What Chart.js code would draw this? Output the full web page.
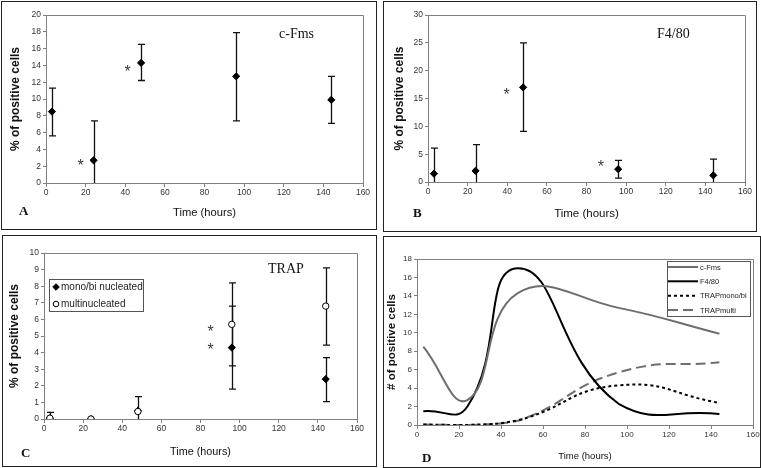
<!DOCTYPE html>
<html><head><meta charset="utf-8">
<script src="https://cdn.jsdelivr.net/npm/chart.js@4.4.1/dist/chart.umd.min.js"></script>
<style>
body{margin:0;background:#fff;}
#wrap{position:relative;width:761px;height:468px;overflow:hidden;background:#fff;}
.frame{position:absolute;box-sizing:border-box;border:1px solid #222;pointer-events:none;}
canvas{position:absolute;}
.lbl{position:absolute;font-family:"Liberation Serif";white-space:nowrap;line-height:1;color:#111;}
.pl{font-weight:bold;font-size:13px;}
.nm{font-size:14px;}
</style></head><body><div id="wrap"></div>
<script>
// ---------- data ----------
const hours = [3, 24, 48, 96, 144];

const cFmsMean = [8.5, 2.7, 14.3, 12.7, 9.9];
const cFmsLow  = [5.6, -3.0, 12.2, 7.4, 7.1];
const cFmsHigh = [11.3, 7.4, 16.5, 17.9, 12.7];

const f480Mean = [1.5, 2.0, 17.0, 2.3, 1.2];
const f480Low  = [-3.0, -3.0, 9.1, 0.7, -2.0];
const f480High = [6.1, 6.7, 25.0, 3.9, 4.1];

const trapMonoMean = [0.05, 0.0, 0.5, 4.3, 2.4];
const trapMonoLow  = [-0.3, null, null, 1.8, 1.05];
const trapMonoHigh = [0.4, null, null, 6.8, 3.7];

const trapMultiMean = [0.05, 0.0, 0.45, 5.7, 6.8];
const trapMultiLow  = [null, null, -0.45, 3.2, 4.45];
const trapMultiHigh = [null, null, 1.35, 8.2, 9.1];

const starsA_x = [17.5, 41.2], starsA_y = [2.5, 13.7];
const starsB_x = [39.7, 87.2], starsB_y = [16.3, 3.5];
const starsC_x = [85.2, 85.2], starsC_y = [5.46, 4.38];

const xMin = 0, xMax = 160, xStep = 20;

const labelsD = ['c-Fms', 'F4/80', 'TRAPmono/bi', 'TRAPmulti'];
const labelsC = ['mono/bi nucleated', 'multinucleated'];

// ---------- helpers ----------
const pts = (xs, ys) => xs.map((x, i) => ({x: x, y: ys[i]}));
const wrap = document.getElementById('wrap');

const boxPlugin = {
  id: 'box',
  afterDraw(chart) {
    const {ctx, chartArea: a} = chart;
    ctx.save();
    ctx.strokeStyle = '#808080'; ctx.lineWidth = 1;
    ctx.beginPath();
    ctx.moveTo(Math.round(a.left), Math.round(a.top) + 0.5);
    ctx.lineTo(Math.round(a.right) + 0.5, Math.round(a.top) + 0.5);
    ctx.lineTo(Math.round(a.right) + 0.5, Math.round(a.bottom));
    ctx.stroke();
    ctx.restore();
  }
};

const errPlugin = {
  id: 'err',
  beforeDatasetsDraw(chart) {
    const {ctx, chartArea: a, scales: {x, y}} = chart;
    ctx.save();
    ctx.beginPath(); ctx.rect(a.left, a.top - 1, a.right - a.left, a.bottom - a.top + 1); ctx.clip();
    chart.data.datasets.forEach(ds => {
      if (!ds.errLow) return;
      ds.data.forEach((p, i) => {
        const lo = ds.errLow[i], hi = ds.errHigh[i];
        if (lo == null || hi == null) return;
        const px = Math.round(x.getPixelForValue(p.x)) + 0.5;
        const pl = y.getPixelForValue(lo), ph = y.getPixelForValue(hi);
        ctx.strokeStyle = '#111'; ctx.lineWidth = 1.3;
        ctx.beginPath();
        ctx.moveTo(px, pl); ctx.lineTo(px, ph);
        ctx.moveTo(px - 3.5, ph); ctx.lineTo(px + 3.5, ph);
        ctx.moveTo(px - 3.5, pl); ctx.lineTo(px + 3.5, pl);
        ctx.stroke();
      });
    });
    ctx.restore();
  }
};

const starPlugin = {
  id: 'stars',
  afterDatasetsDraw(chart, args, opts) {
    if (!opts.xs) return;
    const {ctx, scales: {x, y}} = chart;
    ctx.save();
    ctx.font = '16px "Liberation Sans"';
    ctx.fillStyle = '#3a3a3a';
    ctx.textAlign = 'center';
    ctx.textBaseline = 'alphabetic';
    const m = ctx.measureText('*');
    const off = (m.actualBoundingBoxAscent - m.actualBoundingBoxDescent) / 2;
    opts.xs.forEach((sx, i) => {
      ctx.fillText('*', x.getPixelForValue(sx), y.getPixelForValue(opts.ys[i]) + off);
    });
    ctx.restore();
  }
};

const legendPlugin = {
  id: 'customLegend',
  afterDraw(chart, args, o) {
    if (!o.box) return;
    const {ctx} = chart;
    const [bx0, by0, bx1, by1] = o.box;
    ctx.save();
    ctx.fillStyle = '#fff';
    ctx.fillRect(bx0, by0, bx1 - bx0, by1 - by0);
    ctx.strokeStyle = '#555'; ctx.lineWidth = 1;
    ctx.strokeRect(bx0 + 0.5, by0 + 0.5, bx1 - bx0 - 1, by1 - by0 - 1);
    ctx.font = o.font;
    ctx.fillStyle = '#222';
    ctx.textBaseline = 'middle';
    ctx.textAlign = 'left';
    chart.data.datasets.forEach((ds, i) => {
      const ry = o.rows[i];
      if (o.kind === 'marker') {
        ctx.save();
        ctx.lineWidth = 1; ctx.strokeStyle = '#000';
        ctx.fillStyle = ds.backgroundColor;
        ctx.beginPath();
        if (ds.pointStyle === 'rectRot') {
          const r = 3.3;
          ctx.moveTo(o.mx - r, ry); ctx.lineTo(o.mx, ry - r); ctx.lineTo(o.mx + r, ry); ctx.lineTo(o.mx, ry + r); ctx.closePath();
        } else {
          ctx.arc(o.mx, ry, 2.8, 0, Math.PI * 2);
        }
        ctx.fill(); ctx.stroke();
        ctx.restore();
      } else {
        ctx.save();
        ctx.strokeStyle = ds.borderColor; ctx.lineWidth = ds.borderWidth;
        ctx.setLineDash(ds.borderDash || []);
        ctx.beginPath(); ctx.moveTo(o.lx0, ry); ctx.lineTo(o.lx1, ry); ctx.stroke();
        ctx.restore();
      }
      ctx.fillText(ds.label, o.tx, ry + 0.5);
    });
    ctx.restore();
  }
};

function buildPanel(p) {
  const [fx0, fy0, fx1, fy1] = p.frame;
  const W = fx1 - fx0, H = fy1 - fy0;
  const cv = document.createElement('canvas');
  cv.width = W; cv.height = H;
  cv.style.left = fx0 + 'px'; cv.style.top = fy0 + 'px';
  cv.style.width = W + 'px'; cv.style.height = H + 'px';
  wrap.appendChild(cv);
  const fr = document.createElement('div');
  fr.className = 'frame';
  fr.style.left = fx0 + 'px'; fr.style.top = fy0 + 'px';
  fr.style.width = W + 'px'; fr.style.height = H + 'px';
  wrap.appendChild(fr);

  const l = p.area[0] - fx0, t = p.area[1] - fy0, r = p.area[2] - fx0, b = p.area[3] - fy0;
  const yLH = p.yTitleSize * 1.2, xLH = p.xTitleSize * 1.2;
  const padL = p.yTitleCx - fx0 - yLH / 2;
  const yW = l - padL;
  const xBottom = p.xTitleCy - fy0 + xLH / 2;
  const padB = H - xBottom;
  const xH = xBottom - b;
  const tickFont = {family: 'Liberation Sans', size: p.tickSize};

  new Chart(cv, {
    type: p.type,
    data: {datasets: p.datasets},
    options: {
      responsive: false, animation: false, events: [],
      layout: {padding: {left: padL, top: t, right: W - r, bottom: padB}},
      plugins: {
        legend: {display: false}, tooltip: {enabled: false},
        stars: p.stars || {},
        customLegend: p.legend || {}
      },
      scales: {
        x: {
          type: 'linear', min: xMin, max: xMax,
          ticks: {stepSize: xStep, font: tickFont, color: '#333', padding: 1, maxRotation: 0},
          grid: {display: true, drawOnChartArea: false, drawTicks: true, tickLength: 4, color: '#808080'},
          border: {display: true, color: '#808080'},
          title: {display: true, text: 'Time (hours)', color: '#111', padding: 0,
                  font: {family: 'Liberation Sans', size: p.xTitleSize}},
          afterFit(s) { s.height = xH; }
        },
        y: {
          type: 'linear', min: 0, max: p.yMax,
          ticks: {stepSize: p.yStep, font: tickFont, color: '#333', padding: 2},
          grid: {display: true, drawOnChartArea: false, drawTicks: true, tickLength: 3, color: '#808080'},
          border: {display: true, color: '#808080'},
          title: {display: true, text: p.yTitle, color: '#111', padding: 0,
                  font: {family: 'Liberation Sans', size: p.yTitleSize, weight: 'bold'}},
          afterFit(s) { s.width = yW; }
        }
      }
    },
    plugins: [boxPlugin, errPlugin, starPlugin, legendPlugin]
  });

  (p.texts || []).forEach(tx => {
    const d = document.createElement('div');
    d.className = 'lbl ' + tx.cls;
    d.textContent = tx.text;
    d.style.left = tx.x + 'px'; d.style.top = tx.y + 'px';
    wrap.appendChild(d);
  });
}

const diamond = {pointStyle: 'rectRot', pointRadius: 3.6, borderWidth: 1, borderColor: '#000', backgroundColor: '#000', showLine: false};

buildPanel({
  type: 'scatter', frame: [1, 1, 377, 230], area: [46, 15, 363, 183],
  yTitleCx: 16, xTitleCy: 212.5, yTitleSize: 12, xTitleSize: 11.2, tickSize: 8.5,
  yMax: 20, yStep: 2, yTitle: '% of positive cells',
  datasets: [Object.assign({label: 'c-Fms', data: pts(hours, cFmsMean), errLow: cFmsLow, errHigh: cFmsHigh}, diamond)],
  stars: {xs: starsA_x, ys: starsA_y},
  texts: [{text: 'A', cls: 'pl', x: 19, y: 204}, {text: 'c-Fms', cls: 'nm', x: 279, y: 27}]
});

buildPanel({
  type: 'scatter', frame: [383, 1, 757, 232], area: [428, 15, 745, 182],
  yTitleCx: 400, xTitleCy: 214, yTitleSize: 12, xTitleSize: 11.5, tickSize: 8.5,
  yMax: 30, yStep: 5, yTitle: '% of positive cells',
  datasets: [Object.assign({label: 'F4/80', data: pts(hours, f480Mean), errLow: f480Low, errHigh: f480High}, diamond)],
  stars: {xs: starsB_x, ys: starsB_y},
  texts: [{text: 'B', cls: 'pl', x: 413, y: 206}, {text: 'F4/80', cls: 'nm', x: 657, y: 27}]
});

buildPanel({
  type: 'scatter', frame: [2, 235, 377, 467], area: [44, 253, 357, 419],
  yTitleCx: 14.5, xTitleCy: 452.5, yTitleSize: 12, xTitleSize: 10.8, tickSize: 8.5,
  yMax: 10, yStep: 1, yTitle: '% of positive cells',
  datasets: [
    {label: labelsC[1], data: pts(hours, trapMultiMean), errLow: trapMultiLow, errHigh: trapMultiHigh,
     pointStyle: 'circle', pointRadius: 3.2, borderWidth: 1, borderColor: '#000', backgroundColor: '#fff', showLine: false},
    Object.assign({label: labelsC[0], data: pts(hours, trapMonoMean), errLow: trapMonoLow, errHigh: trapMonoHigh}, diamond)
  ],
  stars: {xs: starsC_x, ys: starsC_y},
  legend: {box: [47, 44, 142, 77], kind: 'marker', font: '10px "Liberation Sans"', rows: [69, 52], mx: 54, tx: 59},
  texts: [{text: 'C', cls: 'pl', x: 21, y: 446}, {text: 'TRAP', cls: 'nm', x: 268, y: 262}]
});

buildPanel({
  type: 'line', frame: [383, 236, 761, 468], area: [417, 259, 753, 425],
  yTitleCx: 391.5, xTitleCy: 456, yTitleSize: 11.5, xTitleSize: 9.5, tickSize: 8,
  yMax: 18, yStep: 2, yTitle: '# of positive cells',
  datasets: [
    {label: labelsD[0], data: pts(hours, cFmsMean), borderColor: '#6e6e6e', borderWidth: 2, pointRadius: 0, tension: 0.45, fill: false},
    {label: labelsD[1], data: pts(hours, f480Mean), borderColor: '#000', borderWidth: 2, pointRadius: 0, tension: 0.5, fill: false},
    {label: labelsD[2], data: pts(hours, trapMonoMean), borderColor: '#000', borderWidth: 2, borderDash: [3, 3], pointRadius: 0, tension: 0.5, fill: false},
    {label: labelsD[3], data: pts(hours, trapMultiMean), borderColor: '#6e6e6e', borderWidth: 2, borderDash: [10, 5], pointRadius: 0, tension: 0.5, fill: false}
  ],
  legend: {box: [284, 25, 368, 81], kind: 'line', font: '7.5px "Liberation Sans"', rows: [31, 45.3, 59.7, 74], lx0: 285, lx1: 315, tx: 317},
  texts: [{text: 'D', cls: 'pl', x: 422, y: 451}]
});
</script></body></html>
